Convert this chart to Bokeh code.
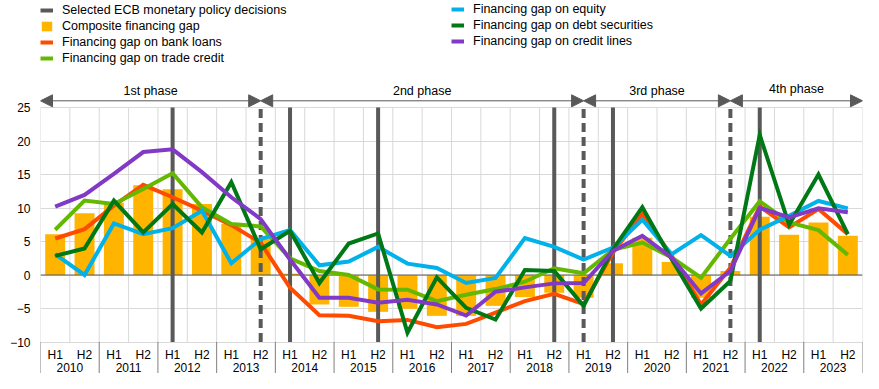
from bokeh.plotting import figure
from bokeh.models import (Range1d, FixedTicker, Arrow, NormalHead, Legend,
                          LegendItem, ColumnDataSource)
from bokeh.core.properties import value
from bokeh.embed import file_html
from bokeh.resources import INLINE

# ---------------- data ----------------
years = ["2010", "2011", "2012", "2013", "2014", "2015", "2016",
         "2017", "2018", "2019", "2020", "2021", "2022", "2023"]
halves = ["H1", "H2"]

composite = [6.1, 9.2, 10.8, 13.4, 12.8, 10.6, 7.6, 5.4, 0.2, -4.4,
             -4.75, -5.5, -5.05, -6.1, -6.1, -4.6, -3.3, -2.65, -3.4, 1.75,
             5.55, 1.95, -3.4, 0.6, 8.7, 6.0, 7.85, 5.85]
bank_loans = [5.45, 6.85, 10.35, 13.45, 11.6, 9.6, 7.45, 4.8, -1.9, -6.0,
              -6.1, -6.9, -6.7, -7.8, -7.3, -5.6, -3.9, -2.8, -4.35, 3.35,
              9.1, 2.85, -4.4, 1.1, 10.25, 7.1, 9.85, 6.1]
trade_credit = [6.75, 11.1, 10.6, 12.85, 15.2, 10.1, 7.6, 7.25, 2.5, 0.6,
                0.0, -2.15, -2.2, -3.9, -2.95, -2.1, -1.0, 1.0, 0.25, 3.75,
                4.85, 2.6, -0.4, 5.4, 11.0, 7.85, 6.7, 3.0]
equity = [3.1, 0.0, 7.7, 6.1, 7.0, 9.6, 1.75, 5.35, 6.7, 1.45,
          2.0, 4.2, 1.7, 1.05, -1.2, -0.45, 5.5, 4.2, 2.3, 4.1,
          8.25, 3.1, 5.95, 2.85, 6.75, 8.85, 11.05, 9.95]
debt_securities = [2.85, 3.95, 11.1, 6.35, 10.6, 6.35, 13.85, 3.85, 6.6, -1.2,
                   4.7, 6.2, -8.6, -0.35, -4.9, -6.65, 0.75, 0.6, -4.6, 3.85,
                   10.1, 2.35, -5.0, -0.9, 20.9, 7.5, 15.0, 6.1]
credit_lines = [10.2, 11.95, 15.1, 18.35, 18.75, 15.35, 11.6, 8.35, 2.3, -3.4,
                -3.4, -4.15, -3.7, -4.4, -6.05, -2.5, -1.85, -1.25, -1.2, 3.6,
                5.85, 2.6, -2.75, 0.6, 10.0, 8.6, 9.95, 9.35]

policy_decisions = ["2012 H1", "2014 H1", "2015 H2", "2018 H2", "2019 H2", "2022 H1"]
phase_breaks = ["2013 H2", "2019 H1", "2021 H2"]
phase_labels = ["1st phase", "2nd phase", "3rd phase", "4th phase"]
y_ticks = [-10, -5, 0, 5, 10, 15, 20, 25]

# ---------------- layout helpers ----------------
periods = [f"{y} {h}" for y in years for h in halves]
n = len(periods)
xc = [i + 0.5 for i in range(n)]
pos = {per: i + 0.5 for i, per in enumerate(periods)}

W, H = 863, 373
FRAME_L, FRAME_R = 40, 862          # canvas px
ZERO_Y, PX_UNIT = 274.5, 6.7        # canvas px of value 0, px per unit


def vy(cy):
    return (ZERO_Y - cy) / PX_UNIT


y_top, y_bot = vy(0), vy(H)
ymin, ymax = y_ticks[0], y_ticks[-1]

FONT = "Liberation Sans"
DARK = "#595959"
GRID = "#d9d9d9"

p = figure(width=W, height=H, x_range=Range1d(0, n), y_range=Range1d(y_bot, y_top),
           output_backend="svg", toolbar_location=None, x_axis_location=None,
           min_border_left=FRAME_L, min_border_right=W - FRAME_R,
           min_border_top=0, min_border_bottom=0)
p.outline_line_color = None
p.background_fill_color = "white"
p.border_fill_color = "white"
for g in p.xgrid:
    g.visible = False

yax = p.yaxis[0]
yax.ticker = FixedTicker(ticks=y_ticks)
yax.axis_line_color = None
yax.major_tick_line_color = None
yax.minor_tick_line_color = None
yax.major_tick_out = 0
yax.major_label_standoff = 10
yax.major_label_text_font = FONT
yax.major_label_text_font_size = "12px"
yax.major_label_text_color = "#000000"
p.ygrid.ticker = FixedTicker(ticks=y_ticks)
p.ygrid.grid_line_color = GRID

# vertical grid lines at every category boundary
edges = list(range(n + 1))
p.segment(x0=edges, y0=[ymin] * len(edges), x1=edges, y1=[ymax] * len(edges),
          line_color=GRID, line_width=1)

# bars
r_bar = p.vbar(x=xc, top=composite, width=0.68, fill_color="#FFB400", line_color=None)

# zero line
p.segment(x0=[0], y0=[0], x1=[n], y1=[0], line_color=DARK, line_width=1)

# policy decisions
px_ = [pos[d] for d in policy_decisions]
r_pol = p.segment(x0=px_, y0=[ymin] * len(px_), x1=px_, y1=[ymax] * len(px_),
                  line_color=DARK, line_width=4)
# phase boundaries (dashed)
bx = [pos[b] for b in phase_breaks]
p.segment(x0=bx, y0=[ymin] * len(bx), x1=bx, y1=[ymax] * len(bx),
          line_color=DARK, line_width=4, line_dash="9 5")

# series lines
series = [
    ("Financing gap on bank loans", bank_loans, "#FF4B00"),
    ("Financing gap on trade credit", trade_credit, "#65B800"),
    ("Financing gap on equity", equity, "#00B1EA"),
    ("Financing gap on debt securities", debt_securities, "#007816"),
    ("Financing gap on credit lines", credit_lines, "#8139C6"),
]
rl = {}
for name, vals, col in series:
    rl[name] = p.line(xc, vals, line_color=col, line_width=4, line_join="miter")

# phase arrows
bounds = [0] + bx + [n]
arrow_y = vy(100.3)
src = ColumnDataSource(dict(x0=bounds[:-1], x1=bounds[1:], y=[arrow_y] * (len(bounds) - 1)))
p.add_layout(Arrow(start=NormalHead(size=12, fill_color=DARK, line_color=DARK, line_width=1),
                   end=NormalHead(size=12, fill_color=DARK, line_color=DARK, line_width=1),
                   x_start="x0", y_start="y", x_end="x1", y_end="y", source=src,
                   line_color=DARK, line_width=1))
mids = [(a + b) / 2 for a, b in zip(bounds[:-1], bounds[1:])]
label_cy = [90.7, 90.7, 90.7, 88.3]
p.text(x=mids, y=[vy(v) for v in label_cy], text=phase_labels,
       text_font=value(FONT), text_font_size="12.5px", text_align="center",
       text_baseline="middle", text_color="#000000")

# category axis (two levels) drawn below the plot area
p.text(x=xc, y=[vy(354)] * n, text=[h for _ in years for h in halves],
       text_font=value(FONT), text_font_size="12px", text_align="center",
       text_baseline="middle", text_color="#000000")
year_x = [2 * i + 1 for i in range(len(years))]
p.text(x=year_x, y=[vy(366.5)] * len(years), text=years,
       text_font=value(FONT), text_font_size="12px", text_align="center",
       text_baseline="middle", text_color="#000000")
sep = list(range(0, n + 1, 2))
p.segment(x0=sep, y0=[ymin] * len(sep), x1=sep, y1=[y_bot] * len(sep),
          line_color="#7f7f7f", line_width=1)

# legends
style = dict(border_line_color=None, background_fill_alpha=0, padding=0, margin=0,
             spacing=2, glyph_width=13, glyph_height=12, label_height=14,
             label_standoff=9, label_text_font=FONT, label_text_font_size="12.5px",
             label_text_color="#000000")
items1 = [LegendItem(label="Selected ECB monetary policy decisions", renderers=[r_pol]),
          LegendItem(label="Composite financing gap", renderers=[r_bar]),
          LegendItem(label="Financing gap on bank loans", renderers=[rl["Financing gap on bank loans"]]),
          LegendItem(label="Financing gap on trade credit", renderers=[rl["Financing gap on trade credit"]])]
items2 = [LegendItem(label=nm, renderers=[rl[nm]]) for nm, _, _ in series[2:]]
h1 = 4 * 14.4 + 3 * 2
h2 = 3 * 14.4 + 2 * 2
leg1 = Legend(items=items1, location=(0, H - h1 - 1), **style)
leg2 = Legend(items=items2, location=(451 - FRAME_L, H - h2 - 1), **style)
p.add_layout(leg1)
p.add_layout(leg2)

open("out.html", "w").write(file_html(p, INLINE))
